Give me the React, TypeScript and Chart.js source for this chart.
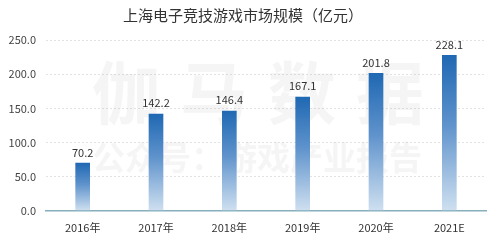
import React, { useEffect, useRef } from "react";
import { Chart, registerables } from "chart.js";

Chart.register(...registerables);

const categories = ["2016年", "2017年", "2018年", "2019年", "2020年", "2021E"];
const marketSize = [70.2, 142.2, 146.4, 167.1, 201.8, 228.1];
const yTicks = [0, 50, 100, 150, 200, 250];
const titleText = "上海电子竞技游戏市场规模（亿元）";
const watermarkTop = ["伽", "马", "数", "据"];
const watermarkBottom = "公众号：游戏产业报告";

const FONT = "'Noto Sans CJK SC', 'Noto Sans', sans-serif";

const valueLabelPlugin = {
  id: "valueLabels",
  afterDatasetsDraw(chart: any) {
    const ctx = chart.ctx;
    const meta = chart.getDatasetMeta(0);
    ctx.save();
    ctx.font = `11px ${FONT}`;
    ctx.fillStyle = "#333333";
    ctx.textAlign = "center";
    ctx.textBaseline = "bottom";
    meta.data.forEach((bar: any, i: number) => {
      ctx.fillText(marketSize[i].toFixed(1), bar.x, bar.y - 5);
    });
    ctx.restore();
  },
};

const watermarkPlugin = {
  id: "watermark",
  beforeDatasetsDraw(chart: any) {
    const ctx = chart.ctx;
    ctx.save();
    ctx.fillStyle = "rgba(180,180,180,0.13)";
    ctx.textAlign = "center";
    ctx.textBaseline = "middle";
    ctx.font = `bold 68px ${FONT}`;
    watermarkTop.forEach((ch, i) => {
      ctx.fillText(ch, 126 + i * 88, 93);
    });
    ctx.font = `bold 33px ${FONT}`;
    ctx.fillText(watermarkBottom, 257, 157);
    ctx.restore();
  },
};

export default function App() {
  const canvasRef = useRef<HTMLCanvasElement | null>(null);

  useEffect(() => {
    if (!canvasRef.current) return;
    const chart = new Chart(canvasRef.current, {
      type: "bar",
      data: {
        labels: categories,
        datasets: [
          {
            data: marketSize,
            backgroundColor: (c: any) => {
              const ch = c.chart;
              const y = ch.scales?.y;
              if (!y || c.dataIndex === undefined) return "#2a6fb8";
              const top = y.getPixelForValue(marketSize[c.dataIndex]);
              const bottom = y.getPixelForValue(0);
              if (!isFinite(top) || !isFinite(bottom) || top === bottom) return "#2a6fb8";
              const g = ch.ctx.createLinearGradient(0, top, 0, bottom);
              g.addColorStop(0, "#1f68b3");
              g.addColorStop(0.45, "#5f93cc");
              g.addColorStop(1, "#cfe0f0");
              return g;
            },
            borderWidth: 0,
            barPercentage: 0.2,
            categoryPercentage: 1,
          },
        ],
      },
      options: {
        responsive: false,
        animation: false,
        layout: { padding: { left: 0, right: 14, top: 0, bottom: 1 } },
        plugins: {
          legend: { display: false },
          tooltip: { enabled: false },
          title: {
            display: true,
            text: titleText,
            color: "#333333",
            font: { family: FONT, size: 15, weight: "normal" },
            padding: { top: 6, bottom: 16 },
          },
        },
        scales: {
          x: {
            grid: { display: false, drawTicks: false },
            border: { display: true, color: "#86aebd", width: 1.5 },
            ticks: {
              color: "#333333",
              font: { family: FONT, size: 11 },
              padding: 10,
            },
          },
          y: {
            min: 0,
            max: 250,
            afterBuildTicks: (s: any) => {
              s.ticks = yTicks.map((v) => ({ value: v }));
            },
            afterFit: (s: any) => {
              s.width = 46;
            },
            grid: {
              color: "#e2e2e2",
              drawTicks: false,
              lineWidth: 1,
            },
            border: { display: false, dash: [2, 2] },
            ticks: {
              color: "#444444",
              font: { family: FONT, size: 11 },
              padding: 10,
              callback: (v: any) => Number(v).toFixed(1),
            },
          },
        },
      },
      plugins: [watermarkPlugin, valueLabelPlugin],
    });
    return () => chart.destroy();
  }, []);

  return (
    <div style={{ position: "fixed", left: 0, top: 0, width: 500, height: 245, background: "#ffffff" }}>
      <canvas ref={canvasRef} width={500} height={245} style={{ width: 500, height: 245 }} />
    </div>
  );
}
